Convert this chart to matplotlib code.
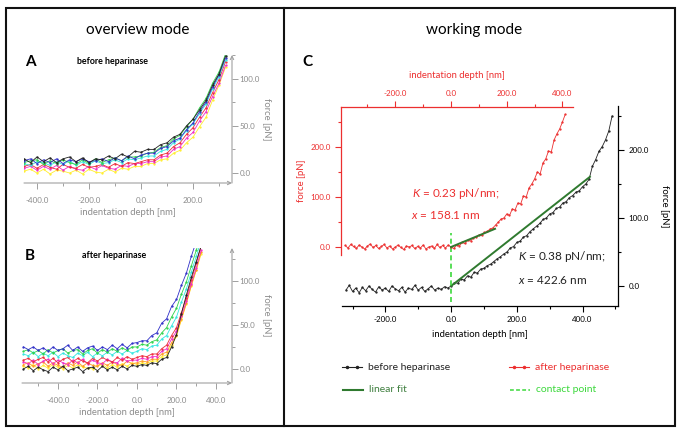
import numpy as np
import matplotlib
matplotlib.use('Agg')
import matplotlib.pyplot as plt
from matplotlib.patches import Rectangle
from matplotlib.lines import Line2D
from matplotlib.ticker import MultipleLocator, FormatStrFormatter

plt.rcParams['font.family'] = ['Lato', 'DejaVu Sans']
plt.rcParams['mathtext.fontset'] = 'custom'
plt.rcParams['mathtext.it'] = 'Lato:italic'
plt.rcParams['mathtext.rm'] = 'Lato'

# ---------------- data ----------------
# panel A: before heparinase, x = -450 .. 325 nm in 25 nm steps
a_depth = np.arange(-450, 350, 25)
a_black = [15, 11, 17, 12, 16, 11, 15, 17, 12, 16, 11, 15, 14, 18, 15, 20, 17, 23,
           22, 25, 25, 30, 32, 38, 41, 50, 57, 67, 77, 93, 105, 124]
a_blue = [13, 15, 10, 14, 11, 15, 10, 14, 12, 15, 12, 13, 15, 12, 16, 13, 18, 15,
          19, 21, 21, 26, 28, 34, 37, 46, 53, 65, 75, 91, 104, 122]
a_green = [11, 13, 14, 9, 13, 10, 14, 11, 9, 14, 10, 15, 11, 14, 16, 13, 17, 17,
           18, 21, 22, 27, 29, 36, 40, 49, 57, 69, 79, 95, 107, 126]
a_cyan = [10, 8, 12, 11, 8, 12, 9, 13, 8, 12, 9, 13, 10, 11, 14, 11, 15, 14,
          16, 18, 18, 23, 25, 32, 36, 45, 52, 63, 73, 89, 102, 120]
a_red = [7, 9, 5, 9, 6, 4, 9, 6, 5, 9, 6, 7, 9, 6, 10, 7, 11, 10,
         12, 14, 14, 19, 21, 28, 32, 41, 48, 59, 69, 85, 99, 118]
a_magenta = [5, 7, 3, 7, 4, 8, 3, 7, 4, 3, 7, 4, 8, 5, 4, 8, 7, 10,
             10, 12, 12, 17, 18, 25, 28, 37, 43, 55, 65, 81, 95, 114]
a_yellow = [2, 4, 0, 4, -1, 3, 2, 0, 3, -1, 4, 1, 0, 4, 1, 5, 4, 7,
            7, 10, 10, 14, 15, 21, 24, 32, 38, 49, 59, 77, 93, 112]

# panel B: after heparinase, x = -575 .. 325 nm in 25 nm steps
b_depth = np.arange(-575, 350, 25)
b_blue = [25, 22, 25, 21, 24, 20, 25, 21, 23, 27, 21, 25, 20, 24, 26, 21, 25, 22, 27, 23, 28, 24, 29,
          30, 32, 32, 38, 41, 52, 57, 71, 79, 95, 109, 128, 145, 160]
b_green = [20, 22, 18, 21, 17, 22, 18, 21, 23, 18, 21, 22, 17, 21, 23, 18, 22, 19, 23, 20, 24, 21, 25,
           25, 28, 27, 31, 33, 41, 47, 59, 69, 85, 99, 117, 135, 152]
b_cyan = [17, 15, 19, 14, 18, 15, 19, 14, 18, 15, 13, 18, 15, 19, 14, 18, 15, 19, 16, 20, 17, 21, 18,
          20, 23, 22, 26, 27, 34, 38, 49, 59, 76, 91, 110, 128, 146]
b_red = [10, 12, 8, 11, 13, 8, 12, 7, 11, 13, 8, 12, 9, 7, 12, 9, 13, 10, 8, 13, 10, 14, 11,
         13, 15, 14, 17, 17, 23, 27, 38, 47, 64, 81, 101, 120, 140]
b_magenta = [8, 6, 10, 5, 9, 11, 6, 10, 7, 5, 10, 7, 11, 6, 10, 7, 6, 11, 8, 7, 12, 9, 10,
             10, 12, 11, 14, 14, 20, 23, 34, 43, 60, 77, 97, 115, 135]
b_orange = [5, 7, 3, 6, 8, 3, 7, 4, 2, 7, 4, 8, 3, 7, 4, 3, 7, 4, 8, 5, 4, 9, 6,
            7, 9, 8, 11, 11, 17, 19, 30, 39, 57, 75, 95, 113, 133]
b_yellow = [3, 1, 5, 0, 4, 1, 5, 2, 0, 4, 1, 5, 2, 1, 0, 4, 5, 1, 5, 2, 6, 3, 7,
            5, 7, 6, 9, 9, 14, 16, 27, 37, 56, 74, 94, 112, 131]
b_black = [0, 3, -2, 2, -1, -3, 2, -1, 3, -2, 0, 2, -3, 1, 2, -2, 3, -1, 2, -1, 3, 0, 4,
           3, 5, 4, 7, 6, 11, 13, 25, 39, 63, 84, 104, 122, 140]

# panel C: working mode curves (10 nm steps)
c_after_depth = np.arange(-380, 420, 10)
c_after_force = [3, -2, 5, 1, -3, 4, 0, -4, 2, 6, -1, 3, -3, 1, 5, -2, 2, -4, 0, 4,
                 -1, -5, 2, 0, 3, -3, 1, -2, 4, -4, 0, 2, -3, 5, -1, 3, -2, 4,
                 0, -3, 4, 2, 9, 7, 13, 12, 18, 20,
                 24, 23, 29, 31, 36, 38, 44, 50, 56, 58,
                 66, 63, 76, 74, 88, 86, 102, 100, 118, 126,
                 136, 150, 146, 168, 176, 192, 190, 214, 226, 236,
                 250, 265]
c_before_depth = np.arange(-320, 500, 10)
c_before_force = [-6, 1, -8, -3, -10, -2, -7, 0, -5, -9, -1, -6, -3, -8, 0, -4, -7, -2, -9, -3,
                  -5, 1, -6, -2, -8, -4, 0, -6, -3, -5, -1, -3,
                  0, 5, 4, 10, 9, 15, 13, 20, 19, 25,
                  26, 30, 32, 36, 40, 43, 47, 50, 56, 58,
                  64, 66, 72, 74, 80, 84, 88, 92, 98, 100,
                  106, 108, 114, 116, 122, 124, 130, 133, 138, 140,
                  146, 150, 157, 176, 186, 198, 205, 215, 228, 250]

# linear fits
k_after, x_after = 0.23, 158.1
k_before, x_before = 0.38, 422.6

# ---------------- layout helpers ----------------
W, H = 683, 434
GRAY = '#a0a0a0'
TXT_GRAY = '#8c8c8c'
RED = '#ec2f2f'
FIT_GREEN = '#2f7a2f'
CP_GREEN = '#3cd83c'

fig = plt.figure(figsize=(W / 100, H / 100), dpi=100)


def box(x0, y0, x1, y1):
    return [x0 / W, 1 - y1 / H, (x1 - x0) / W, (y1 - y0) / H]


def ftext(x, y, s, **kw):
    fig.text(x / W, 1 - y / H, s, **kw)


def style_overview(ax, xlim, ylim):
    ax.set_xlim(*xlim)
    ax.set_ylim(*ylim)
    ax.set_facecolor('none')
    for s in ax.spines.values():
        s.set_visible(False)
    ax.yaxis.tick_right()
    ax.yaxis.set_label_position('right')
    ax.xaxis.set_major_locator(MultipleLocator(200))
    ax.xaxis.set_minor_locator(MultipleLocator(100))
    ax.yaxis.set_major_locator(MultipleLocator(50))
    ax.yaxis.set_minor_locator(MultipleLocator(25))
    ax.xaxis.set_major_formatter(FormatStrFormatter('%.1f'))
    ax.yaxis.set_major_formatter(FormatStrFormatter('%.1f'))
    ax.tick_params(which='both', direction='out', color=GRAY, width=0.7,
                   labelcolor=TXT_GRAY, labelsize=5.8)
    ax.tick_params(which='major', length=4)
    ax.tick_params(which='minor', length=2.5)
    ax.tick_params(axis='x', pad=6)
    ax.tick_params(axis='y', pad=1.5)
    ax.set_xlabel('indentation depth [nm]', color=TXT_GRAY, fontsize=6.8, labelpad=3)
    ax.set_ylabel('force [pN]', color=TXT_GRAY, fontsize=6.8, rotation=270,
                  va='bottom', labelpad=1.5)
    arr = dict(arrowstyle='->', color=GRAY, lw=0.8, shrinkA=0, shrinkB=0, mutation_scale=6)
    ax.annotate('', xy=(1, 0), xytext=(0, 0), xycoords='axes fraction', arrowprops=arr)
    ax.annotate('', xy=(1, 1), xytext=(1, 0), xycoords='axes fraction', arrowprops=arr)


def draw_curves(ax, x, curves):
    for y, c in curves:
        ax.plot(x, y, color=c, lw=0.6, marker='.', ms=1.3, clip_on=True)


# ---------------- panel A ----------------
axA = fig.add_axes(box(24, 55, 232, 183))
draw_curves(axA, a_depth, [(a_yellow, '#ffee2e'), (a_magenta, '#f02cc8'), (a_red, '#ee2a3a'),
                           (a_cyan, '#33e6e0'), (a_green, '#2ed24a'), (a_blue, '#3030c8'),
                           (a_black, '#222222')])
style_overview(axA, (-450, 350), (-10.6, 125))

# ---------------- panel B ----------------
axB = fig.add_axes(box(22, 248, 232, 383))
draw_curves(axB, b_depth, [(b_yellow, '#ffee2e'), (b_orange, '#ff9a22'), (b_magenta, '#f02cc8'),
                           (b_red, '#ee2a3a'), (b_cyan, '#33e6e0'), (b_green, '#2ed24a'),
                           (b_blue, '#3030c8'), (b_black, '#222222')])
style_overview(axB, (-582, 481), (-16, 137.5))

# ---------------- panel C ----------------
axK = fig.add_axes(box(342, 106, 618, 306))
axK.set_facecolor('none')
axK.set_xlim(-332, 508)
axK.set_ylim(-29.4, 264.7)
for s in ['left', 'top']:
    axK.spines[s].set_visible(False)
for s in ['bottom', 'right']:
    axK.spines[s].set_linewidth(0.9)
axK.yaxis.tick_right()
axK.yaxis.set_label_position('right')
axK.xaxis.set_major_locator(MultipleLocator(200))
axK.xaxis.set_minor_locator(MultipleLocator(100))
axK.yaxis.set_major_locator(MultipleLocator(100))
axK.yaxis.set_minor_locator(MultipleLocator(50))
axK.xaxis.set_major_formatter(FormatStrFormatter('%.1f'))
axK.yaxis.set_major_formatter(FormatStrFormatter('%.1f'))
axK.tick_params(which='both', direction='out', width=0.8, labelsize=5.8, pad=3)
axK.tick_params(which='major', length=4.5)
axK.tick_params(which='minor', length=2.5)
axK.set_xlabel('indentation depth [nm]', fontsize=6.8, labelpad=4.5)
axK.set_ylabel('force [pN]', fontsize=6.8, rotation=270, va='bottom', labelpad=8)

axK.plot(c_before_depth, c_before_force, color='#222222', lw=0.6, marker='.', ms=1.3)
fit_x = np.array([0, x_before])
axK.plot(fit_x, k_before * fit_x, color=FIT_GREEN, lw=1.4)
axK.plot([0, 0], [-23, 78], color=CP_GREEN, lw=1.2, ls=(0, (3, 2)))

axR = fig.add_axes(box(341, 107, 573, 255))
axR.set_facecolor('none')
axR.set_xlim(-395, 438)
axR.set_ylim(-16, 280)
for s in ['right', 'bottom']:
    axR.spines[s].set_visible(False)
for s in ['left', 'top']:
    axR.spines[s].set_color(RED)
    axR.spines[s].set_linewidth(0.9)
axR.xaxis.tick_top()
axR.xaxis.set_label_position('top')
axR.xaxis.set_major_locator(MultipleLocator(200))
axR.xaxis.set_minor_locator(MultipleLocator(100))
axR.yaxis.set_major_locator(MultipleLocator(100))
axR.yaxis.set_minor_locator(MultipleLocator(50))
axR.xaxis.set_major_formatter(FormatStrFormatter('%.1f'))
axR.yaxis.set_major_formatter(FormatStrFormatter('%.1f'))
axR.tick_params(which='both', direction='out', width=0.8, color=RED, labelcolor=RED,
                labelsize=5.8, pad=3)
axR.tick_params(which='major', length=4.5)
axR.tick_params(which='minor', length=2.5)
axR.set_xlabel('indentation depth [nm]', fontsize=6.8, color=RED, labelpad=8)
axR.set_ylabel('force [pN]', fontsize=6.8, color=RED, labelpad=3)

axR.plot(c_after_depth, c_after_force, color=RED, lw=0.6, marker='.', ms=1.3)
fit_x = np.array([0, x_after])
axR.plot(fit_x, k_after * fit_x, color=FIT_GREEN, lw=1.4)

# fit annotations
ftext(412, 194, rf'$K$ = {k_after:.2f} pN/nm;', color=RED, fontsize=8.5, va='center')
ftext(411, 215, rf'$x$ = {x_after:.1f} nm', color=RED, fontsize=8.5, va='center')
ftext(518, 257, rf'$K$ = {k_before:.2f} pN/nm;', color='#222222', fontsize=8.5, va='center')
ftext(518, 280, rf'$x$ = {x_before:.1f} nm', color='#222222', fontsize=8.5, va='center')

# ---------------- legend ----------------
legend_rows = [
    (342, 367, dict(color='#222222', lw=0.8, marker='.', ms=3, markevery=[1, 2]), 'before heparinase', '#222222'),
    (509, 367, dict(color=RED, lw=0.8, marker='.', ms=3, markevery=[1, 2]), 'after heparinase', RED),
    (343, 390, dict(color=FIT_GREEN, lw=1.5), 'linear fit', '#3f7f3f'),
    (510, 390, dict(color=CP_GREEN, lw=1.1, ls=(0, (2.5, 1.5))), 'contact point', CP_GREEN),
]
for x0, y0, style, label, tc in legend_rows:
    xs = np.array([x0, x0 + 5, x0 + 15, x0 + 20]) / W
    fig.add_artist(Line2D(xs, [1 - y0 / H] * 4, transform=fig.transFigure, **style))
    ftext(x0 + 26, y0, label, color=tc, fontsize=7.5, va='center')

# ---------------- frame and headings ----------------
fig.add_artist(Rectangle((6 / W, 1 - 426 / H), 669 / W, 418 / H, fill=False,
                         edgecolor='#111111', lw=1.5, transform=fig.transFigure))
fig.add_artist(Line2D([284 / W, 284 / W], [1 - 8 / H, 1 - 426 / H], color='#111111',
                      lw=1.5, transform=fig.transFigure))
ftext(138, 30, 'overview mode', fontsize=11, ha='center', va='center')
ftext(474, 30, 'working mode', fontsize=11, ha='center', va='center')
ftext(25, 62, 'A', fontsize=11, weight='bold', va='center')
ftext(77, 62, 'before heparinase', fontsize=6.4, weight='bold', va='center')
ftext(25, 256, 'B', fontsize=11, weight='bold', va='center')
ftext(82, 256, 'after heparinase', fontsize=6.4, weight='bold', va='center')
ftext(302, 62, 'C', fontsize=11, weight='bold', va='center')

fig.savefig('out.png', dpi=100)
